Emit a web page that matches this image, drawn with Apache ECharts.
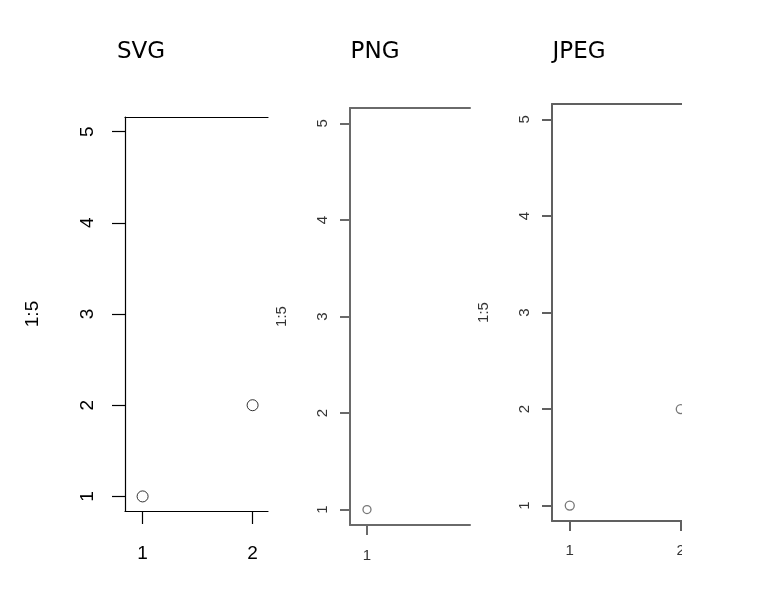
<!DOCTYPE html>
<html><head><meta charset="utf-8">
<script src="https://cdn.jsdelivr.net/npm/echarts@6/dist/echarts.min.js"></script>
<style>html,body{margin:0;padding:0;background:#fff}#c{width:764px;height:589px}</style>
</head><body><div id="c"></div>
<script>
// Data: plot(1:5) — index vs value
const xValues = [1, 2, 3, 4, 5];
const yValues = [1, 2, 3, 4, 5];
const xTicks = [1, 2, 3, 4, 5];
const yTicks = [1, 2, 3, 4, 5];
const panelTitles = ['SVG', 'PNG', 'JPEG'];
const yAxisTitle = '1:5';
const yRange = [0.84, 5.16];

const panels = [
  {left:125, top:117, width:143, height:394, xmax:2.14, line:'#000', lw:1.2, tick:13, font:19, lblColor:'#000',
   ylm:28, xlm:33, nameGap:83, sym:11, symColor:'#000', symW:1, titleX:141},
  {left:350, top:108, width:120, height:417, xmax:1.97, line:'#6a6a6a', lw:2, tick:10, font:15, lblColor:'#333',
   ylm:20, xlm:23, nameGap:61, sym:8, symColor:'#555', symW:1.3, titleX:375},
  {left:552, top:104, width:130, height:417, xmax:2.011, line:'#606060', lw:2, tick:10, font:15, lblColor:'#333',
   ylm:20, xlm:22, nameGap:61, sym:9, symColor:'#555', symW:1.3, titleX:579}
];

const grid = [], xAxis = [], yAxis = [], series = [], graphic = [];
panels.forEach((p, i) => {
  grid.push({left:p.left, top:p.top, width:p.width, height:p.height});
  const ls = {color:p.line, width:p.lw};
  xAxis.push({type:'value', gridIndex:i, min:yRange[0], max:p.xmax, position:'bottom',
    axisLine:{show:true, onZero:false, lineStyle:ls},
    axisTick:{show:true, length:p.tick, customValues:xTicks, lineStyle:ls},
    axisLabel:{customValues:xTicks, margin:p.xlm, fontSize:p.font, color:p.lblColor, fontFamily:'Liberation Sans'},
    splitLine:{show:false}});
  xAxis.push({type:'value', gridIndex:i, min:yRange[0], max:p.xmax, position:'top',
    axisLine:{show:true, onZero:false, lineStyle:ls}, axisTick:{show:false}, axisLabel:{show:false}, splitLine:{show:false}});
  yAxis.push({type:'value', gridIndex:i, min:yRange[0], max:yRange[1], position:'left',
    name:yAxisTitle, nameLocation:'middle', nameRotate:90, nameGap:p.nameGap,
    nameTextStyle:{fontSize:p.font, color:p.lblColor, fontFamily:'Liberation Sans'},
    axisLine:{show:true, onZero:false, lineStyle:ls},
    axisTick:{show:true, length:p.tick, customValues:yTicks, lineStyle:ls},
    axisLabel:{customValues:yTicks, rotate:90, margin:p.ylm, fontSize:p.font, color:p.lblColor, fontFamily:'Liberation Sans'},
    splitLine:{show:false}});
  series.push({type:'scatter', xAxisIndex:i*2, yAxisIndex:i, clip:true,
    symbol:'circle', symbolSize:p.sym,
    itemStyle:{color:'rgba(255,255,255,0)', borderColor:p.symColor, borderWidth:p.symW},
    data:xValues.map((x, k) => [x, yValues[k]])});
  graphic.push({type:'text', x:p.titleX, y:52, style:{text:panelTitles[i], font:'23px "DejaVu Sans"', fill:'#000', textAlign:'center', textVerticalAlign:'middle'}});
});
graphic.push({type:'rect', shape:{x:682, y:0, width:82, height:589}, style:{fill:'#fff'}, z:100});

const chart = echarts.init(document.getElementById('c'), null, {renderer:'canvas'});
chart.setOption({animation:false, backgroundColor:'#fff', grid, xAxis, yAxis, series, graphic});
</script></body></html>
